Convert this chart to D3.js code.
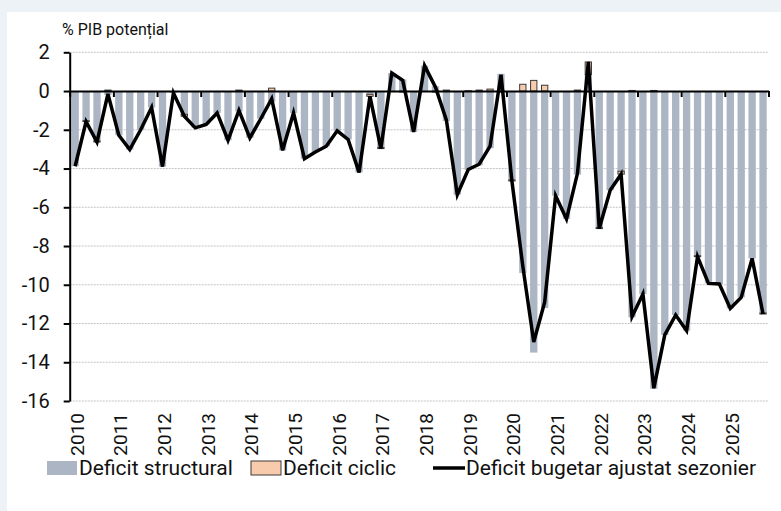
<!DOCTYPE html>
<html><head><meta charset="utf-8">
<script src="https://cdn.jsdelivr.net/npm/d3@7"></script>
<style>
body{margin:0;background:#edf2f6}
svg text{font-family:Roboto,"Liberation Sans",sans-serif;fill:#111}
</style>
</head><body><svg id="chart" width="781" height="511"></svg>
<script>
// ---- data ----
const years = ["2010","2011","2012","2013","2014","2015","2016","2017","2018","2019","2020","2021","2022","2023","2024","2025"];
const quarterNames = ["T1","T2","T3","T4"];
const yTicks = [2,0,-2,-4,-6,-8,-10,-12,-14,-16];

const structural = [
 -3.88,-1.53,-2.58,-0.20, -2.28,-3.02,-2.00,-0.85, -3.90,-0.10,-1.20,-1.90, -1.72,-1.13,-2.54,-1.05,
 -2.42,-1.43,-0.55,-3.06, -1.13,-3.49,-3.15,-2.85, -2.05,-2.50,-4.20,-0.17, -2.92,0.93,0.60,-2.11,
 1.31,0.25,-1.55,-5.35, -4.07,-3.83,-2.95,0.89, -4.59,-9.40,-13.50,-11.20, -5.40,-6.60,-4.31,0.85,
 -7.05,-5.12,-4.14,-11.68, -10.48,-15.37,-12.59,-11.56, -12.37,-8.50,-9.93,-9.96, -11.22,-10.65,-8.64,-11.46];
const cyclic = [
 0,-0.05,-0.05,0.05, 0,0,0,0, 0,0,-0.10,0, 0,0,0,0.05,
 0,0,0.15,0, 0,0,0,0, 0,0,0,-0.10, -0.05,0,-0.05,0,
 0,-0.05,0.05,0, 0.02,0.05,0.10,-0.05, -0.05,0.35,0.55,0.30, 0,0,0.05,0.65,
 -0.05,0,-0.15,0.03, 0,0.03,0,0, 0,-0.05,0,0, 0,0,0,-0.05];
const adjusted = [
 -3.88,-1.58,-2.63,-0.15, -2.28,-3.02,-2.00,-0.85, -3.90,-0.10,-1.30,-1.90, -1.72,-1.13,-2.54,-1.00,
 -2.42,-1.43,-0.40,-3.06, -1.13,-3.49,-3.15,-2.85, -2.05,-2.50,-4.20,-0.27, -2.97,0.93,0.55,-2.11,
 1.31,0.20,-1.50,-5.35, -4.05,-3.78,-2.85,0.84, -4.64,-9.05,-12.95,-10.90, -5.40,-6.60,-4.26,1.50,
 -7.10,-5.12,-4.29,-11.65, -10.48,-15.34,-12.59,-11.56, -12.37,-8.55,-9.93,-9.96, -11.22,-10.65,-8.64,-11.51];

const seriesNames = ["Deficit structural","Deficit ciclic","Deficit bugetar ajustat sezonier"];
const colors = {structural:"#abb5c3", cyclic:"#f8cbad", cyclicStroke:"#3a3a3a", line:"#000"};

// ---- build ----
const categories = [];
years.forEach(y => quarterNames.forEach(q => categories.push(y + q)));
const rows = categories.map((c,i) => ({cat:c, structural:structural[i], cyclic:cyclic[i], adjusted:adjusted[i]}));

const svg = d3.select("#chart");
svg.append("rect").attr("x",7).attr("y",12).attr("width",774).attr("height",499).attr("fill","#fff");

const pLeft = 69.7, pRight = 768.5, pTop = 52.3, pBottom = 401;
const x = d3.scaleBand().domain(categories).range([pLeft,pRight]).paddingInner(0.33).paddingOuter(0.165);
const y = d3.scaleLinear().domain([-16,2]).range([pBottom,pTop]);
const xYear = d3.scaleLinear().domain([2010,2026]).range([pLeft,pRight]);

// grid
svg.append("g").selectAll("line").data(yTicks.filter(v=>v!==0)).join("line")
  .attr("x1",pLeft).attr("x2",pRight).attr("y1",d=>y(d)).attr("y2",d=>y(d))
  .attr("stroke","#c4c4c4").attr("stroke-width",1).attr("stroke-dasharray","2,1");

// bars
const stack = d3.stack().keys(["structural","cyclic"]).offset(d3.stackOffsetDiverging);
const stacked = stack(rows);
svg.append("g").selectAll("rect").data(stacked[0]).join("rect")
  .attr("x",d=>x(d.data.cat)).attr("width",x.bandwidth())
  .attr("y",d=>y(Math.max(d[0],d[1]))).attr("height",d=>Math.abs(y(d[0])-y(d[1])))
  .attr("fill",colors.structural);
svg.append("g").selectAll("rect").data(stacked[1].filter(d=>d[0]!==d[1])).join("rect")
  .attr("x",d=>x(d.data.cat)+0.5).attr("width",x.bandwidth()-1)
  .attr("y",d=>y(Math.max(d[0],d[1]))).attr("height",d=>Math.max(0.5,Math.abs(y(d[0])-y(d[1]))))
  .attr("fill",colors.cyclic).attr("stroke",colors.cyclicStroke).attr("stroke-width",1);

// y axis
const yAxis = svg.append("g").attr("transform",`translate(${pLeft},0)`)
  .call(d3.axisLeft(y).tickValues(yTicks).tickSize(6).tickSizeOuter(0).tickPadding(14).tickFormat(d3.format("d")));
yAxis.select(".domain").attr("stroke","#000").attr("stroke-width",2);
yAxis.selectAll(".tick line").attr("stroke","#000").attr("stroke-width",2);
yAxis.selectAll("text").style("font-size","20px").attr("fill","#111")
  .style("font-family","Roboto, sans-serif").text(d=>d<0?"-"+Math.abs(d):d);

// zero axis with year-boundary ticks
const zAxis = svg.append("g").attr("transform",`translate(0,${y(0)})`)
  .call(d3.axisBottom(xYear).tickValues(d3.range(2010,2027)).tickSize(6).tickSizeOuter(0).tickFormat(() => ""));
zAxis.select(".domain").attr("stroke","#000").attr("stroke-width",2);
zAxis.selectAll(".tick line").attr("stroke","#000").attr("stroke-width",2);

// year labels (rotated)
const q1 = categories.filter((c,i)=>i%4===0);
svg.append("g").selectAll("text").data(q1).join("text")
  .attr("transform",d=>`translate(${x(d)+x.bandwidth()/2+1.5},${pBottom+12}) rotate(-90)`)
  .attr("text-anchor","end").attr("dy","0.36em").style("font-size","19px")
  .text(d=>d.slice(0,4));

// line
const line = d3.line().x(d=>x(d.cat)+x.bandwidth()/2).y(d=>y(d.adjusted));
svg.append("path").datum(rows).attr("d",line).attr("fill","none")
  .attr("stroke",colors.line).attr("stroke-width",3.5).attr("stroke-linejoin","miter");

// title
svg.append("text").attr("x",62).attr("y",35).style("font-size","16px").text("% PIB potențial");

// legend
const lg = svg.append("g").attr("transform","translate(0,468)");
lg.append("rect").attr("x",47).attr("y",-7).attr("width",30).attr("height",14).attr("fill",colors.structural);
lg.append("text").attr("x",79).attr("dy","0.35em").style("font-size","21px").text(seriesNames[0]);
lg.append("rect").attr("x",251).attr("y",-7).attr("width",30).attr("height",14).attr("fill",colors.cyclic).attr("stroke",colors.cyclicStroke).attr("stroke-width",1);
lg.append("text").attr("x",283).attr("dy","0.35em").style("font-size","21px").text(seriesNames[1]);
lg.append("line").attr("x1",433).attr("x2",465).attr("y1",0).attr("y2",0).attr("stroke","#000").attr("stroke-width",3.5);
lg.append("text").attr("x",466).attr("dy","0.35em").style("font-size","21px").text(seriesNames[2]);
</script></body></html>
